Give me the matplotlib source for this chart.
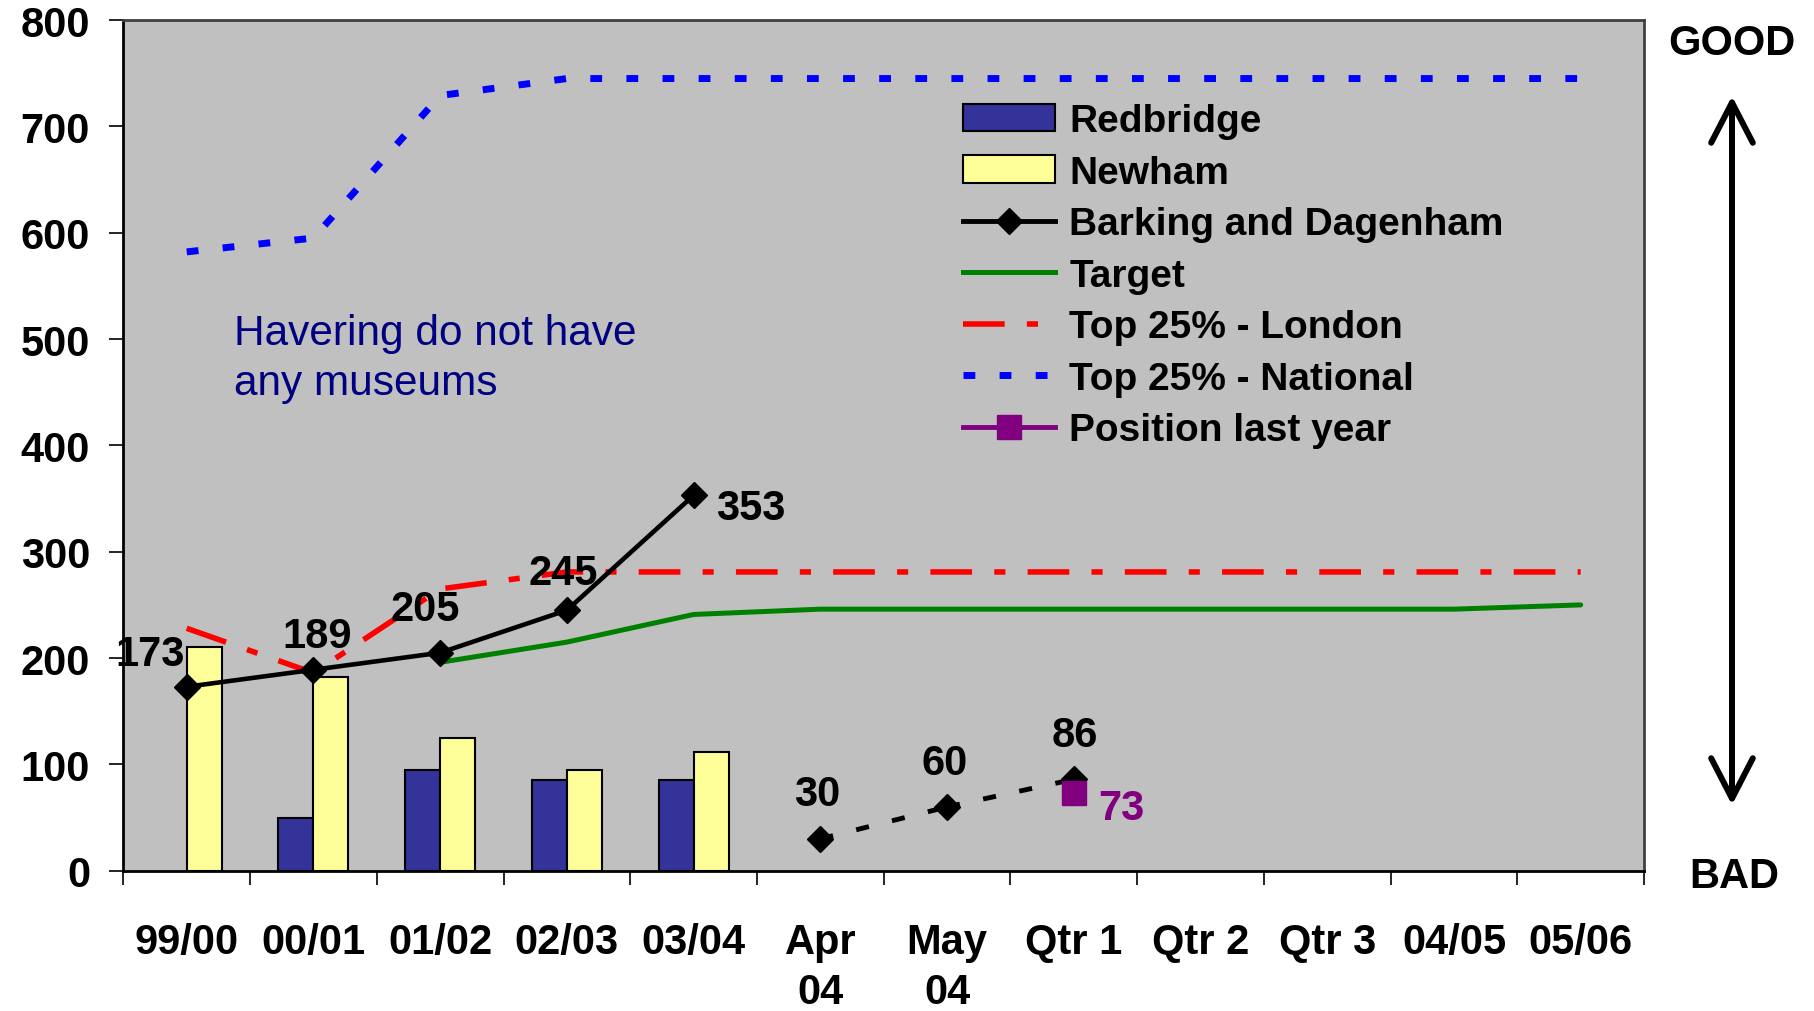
import numpy as np
import matplotlib.pyplot as plt
from matplotlib.patches import Patch
from matplotlib.lines import Line2D

plt.rcParams['font.family'] = ['Liberation Sans', 'DejaVu Sans']

# data
categories = ["99/00", "00/01", "01/02", "02/03", "03/04", "Apr\n04", "May\n04",
              "Qtr 1", "Qtr 2", "Qtr 3", "04/05", "05/06"]
redbridge = [np.nan, 50, 95, 85, 85]
newham = [210, 182, 125, 95, 112]
barking_annual = [173, 189, 205, 245, 353]
barking_monthly = [30, 60, 86]          # Apr 04, May 04, Qtr 1
target = [np.nan, np.nan, 196, 215, 241, 246, 246, 246, 246, 246, 246, 250]
london_top25 = [228, 186, 265, 281, 281, 281, 281, 281, 281, 281, 281, 281]
national_top25 = [582, 595, 729, 745, 745, 745, 745, 745, 745, 745, 745, 745]
last_year = [73]                        # Qtr 1

x = np.arange(len(categories))
bar_w = 0.276

fig = plt.figure(figsize=(18.14, 10.12), dpi=100)
ax = fig.add_axes([0.068, 0.1386, 0.8383, 0.8406])
ax.set_facecolor('#C0C0C0')

# bars
nb = len(newham)
ax.bar(x[:nb] - bar_w / 2, redbridge, bar_w, color='#333399', edgecolor='black', lw=1.5, zorder=2)
ax.bar(x[:nb] + bar_w / 2, newham, bar_w, color='#FFFF99', edgecolor='black', lw=1.5, zorder=2)

# benchmark lines
ax.plot(x, national_top25, color='blue', lw=5, dashes=(1.7, 3.5), dash_capstyle='butt', zorder=3)
ax.plot(x, london_top25, color='red', lw=4, dashes=(7.5, 4, 2, 4), dash_capstyle='butt', zorder=3)
ax.plot(x, target, color='#008000', lw=3.6, solid_capstyle='round', zorder=3)

# Barking and Dagenham
ax.plot(x[:5], barking_annual, color='black', lw=3.3, marker='D', ms=13, zorder=4)
xm = x[5:8]
ax.plot(xm[:2], barking_monthly[:2], color='black', lw=3.5, dashes=(2.7, 4.9), marker='D', ms=13, zorder=4)
ax.plot(xm[1:], barking_monthly[1:], color='black', lw=3.5, dashes=(2.7, 4.9), zorder=4)
ax.plot(xm[2:], barking_monthly[2:], color='black', marker='D', ms=13, ls='none', zorder=4)
ax.plot([x[7]], last_year, color='#800080', marker='s', ms=17, ls='none', zorder=5)

# data labels
lbl_kw = dict(textcoords='offset pixels', ha='center', va='center', fontsize=30,
              fontweight='bold', zorder=6)
annual_off = [(-37, 33), (4, 34), (-15, 44), (-4, 37), (57, -13)]
for xi, v, off in zip(x[:5], barking_annual, annual_off):
    ax.annotate(str(v), (xi, v), xytext=off, **lbl_kw)
monthly_off = [(-3, 45), (-2, 44), (1, 44)]
for xi, v, off in zip(xm, barking_monthly, monthly_off):
    ax.annotate(str(v), (xi, v), xytext=off, **lbl_kw)
ax.annotate(str(last_year[0]), (x[7], last_year[0]), xytext=(48, -15), color='#800080', **lbl_kw)

# axes
ax.set_xlim(-0.5, len(categories) - 0.5)
ax.set_ylim(0, 800)
ax.set_yticks(np.arange(0, 801, 100))
ax.tick_params(axis='y', length=10, width=1.2, pad=14, labelsize=30)
for t in ax.get_yticklabels():
    t.set_fontweight('bold')
ax.set_xticks(np.arange(-0.5, len(categories), 1))
ax.set_xticklabels([])
ax.set_xticks(x, minor=True)
ax.set_xticklabels(categories, minor=True, fontsize=30, fontweight='bold', linespacing=1.33)
ax.tick_params(axis='x', which='major', length=10, width=1.2)
ax.tick_params(axis='x', which='minor', length=0, pad=37)
for s in ['left', 'bottom']:
    ax.spines[s].set_linewidth(2)
    ax.spines[s].set_color('black')
for s in ['top', 'right']:
    ax.spines[s].set_linewidth(2)
    ax.spines[s].set_color('#404040')

# legend
handles = [
    Patch(facecolor='#333399', edgecolor='black', lw=1.5),
    Patch(facecolor='#FFFF99', edgecolor='black', lw=1.5),
    Line2D([], [], color='black', lw=3.5, marker='D', ms=13),
    Line2D([], [], color='#008000', lw=3.6),
    Line2D([], [], color='red', lw=4, dashes=(7.5, 4, 2, 4)),
    Line2D([], [], color='blue', lw=5, dashes=(1.7, 3.5)),
    Line2D([], [], color='#800080', lw=3.5, marker='s', ms=17),
]
names = ["Redbridge", "Newham", "Barking and Dagenham", "Target",
         "Top 25% - London", "Top 25% - National", "Position last year"]
ax.legend(handles, names, loc='upper left', bbox_to_anchor=(963 / 1814, 1 - 104 / 1012),
          bbox_transform=fig.transFigure, frameon=False, borderpad=0, borderaxespad=0,
          handlelength=2.37, handletextpad=0.36, labelspacing=0.40,
          prop=dict(size=28, weight='bold'))

ax.text(234 / 1814, 1 - 359 / 1012, "Havering do not have\nany museums", transform=fig.transFigure,
        ha='left', va='center', fontsize=30.5, color='#000080', linespacing=1.32)

# good / bad arrow
fig.text(1732 / 1814, 1 - 44 / 1012, "GOOD", ha='center', va='center', fontsize=30, fontweight='bold')
fig.text(1734 / 1814, 1 - 877 / 1012, "BAD", ha='center', va='center', fontsize=30, fontweight='bold')
ax.annotate('', xy=(1732, 1012 - 97), xytext=(1732, 1012 - 806), xycoords='figure pixels',
            textcoords='figure pixels', annotation_clip=False,
            arrowprops=dict(arrowstyle='<->,head_length=2.9,head_width=1.5', lw=4.3,
                            color='black', shrinkA=0, shrinkB=0, capstyle='round'))

fig.savefig('out.png', dpi=100)
